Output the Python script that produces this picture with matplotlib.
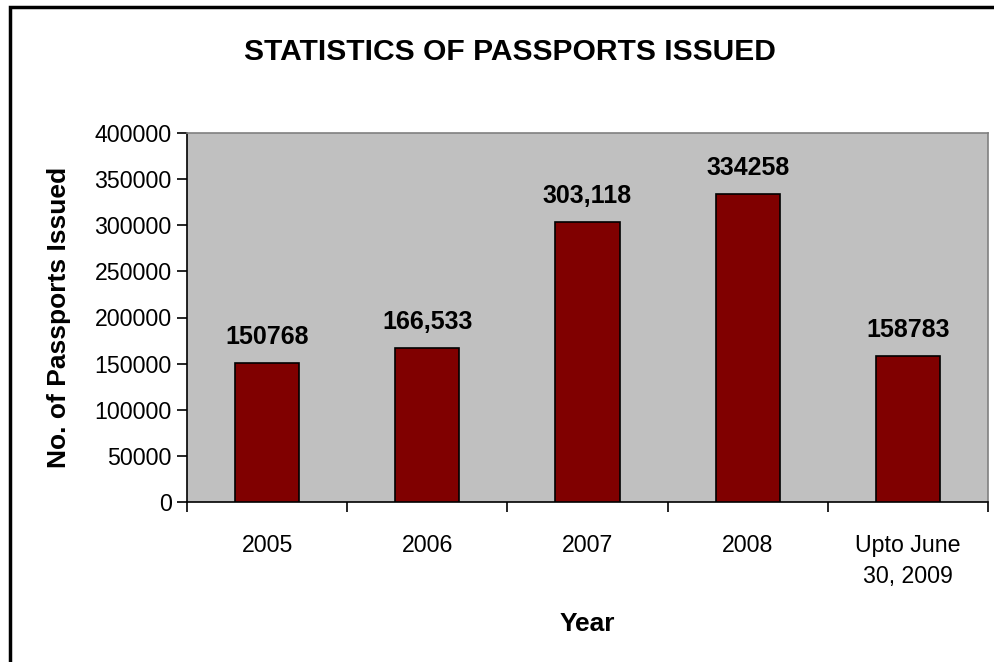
import matplotlib
matplotlib.use("Agg")
import matplotlib.pyplot as plt
from matplotlib.patches import Rectangle

categories = ["2005", "2006", "2007", "2008", "Upto June\n30, 2009"]
values = [150768, 166533, 303118, 334258, 158783]
bar_labels = ["150768", "166,533", "303,118", "334258", "158783"]
yticks = [0, 50000, 100000, 150000, 200000, 250000, 300000, 350000, 400000]

plt.rcParams["font.family"] = ["Liberation Sans", "DejaVu Sans"]

fig = plt.figure(figsize=(9.94, 6.62), dpi=100)
ax = fig.add_axes([187 / 994, 160 / 662, 801 / 994, 369 / 662])

x = list(range(len(categories)))
ax.bar(x, values, width=0.4, color="#800000", edgecolor="black", linewidth=1.2, zorder=3)
for xi, v, lab in zip(x, values, bar_labels):
    ax.annotate(lab, (xi, v), xytext=(0, 10), textcoords="offset points",
                ha="center", va="bottom", fontsize=18, fontweight="bold")

ax.set_facecolor("#C0C0C0")
ax.set_xlim(-0.5, len(categories) - 0.5)
ax.set_ylim(0, 400000)
ax.set_yticks(yticks)
ax.set_yticklabels([str(t) for t in yticks], fontsize=16.7)

# category labels centred, tick marks on the category boundaries
ax.set_xticks(x)
ax.set_xticklabels(categories, fontsize=16.7, linespacing=1.45)
ax.tick_params(axis="x", which="major", length=0, pad=23)
ax.set_xticks([i - 0.5 for i in range(len(categories) + 1)], minor=True)
ax.tick_params(axis="x", which="minor", length=7, width=1.2, direction="out")
ax.tick_params(axis="y", length=7, width=1.2, direction="out", pad=4)

for side in ("top", "right"):
    ax.spines[side].set_color("#808080")
    ax.spines[side].set_linewidth(1.2)
for side in ("left", "bottom"):
    ax.spines[side].set_color("black")
    ax.spines[side].set_linewidth(1.2)

ax.set_ylabel("No. of Passports Issued", fontsize=19, fontweight="bold", labelpad=17)
ax.set_xlabel("Year", fontsize=19, fontweight="bold", labelpad=17)

fig.text(510 / 994, 1 - 52 / 662, "STATISTICS OF PASSPORTS ISSUED",
         ha="center", va="center", fontsize=21.6, fontweight="bold")

# chart border, running off the right and bottom edges like the source
fig.patches.append(Rectangle((10 / 994, -0.05), 1.05, 1 - 7 / 662 + 0.05,
                             transform=fig.transFigure, fill=False,
                             edgecolor="black", linewidth=2.5))

fig.savefig("out.png", dpi=100)
